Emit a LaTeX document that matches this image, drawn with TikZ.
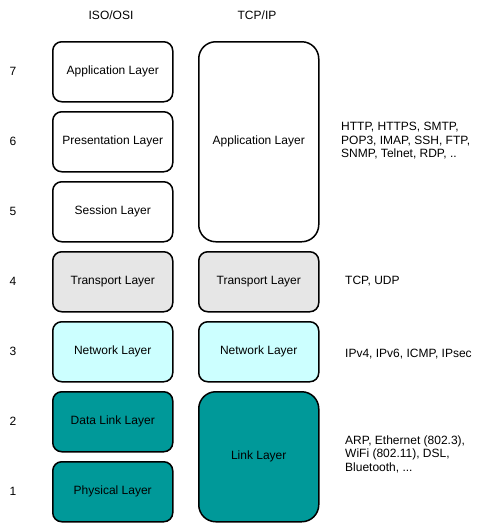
\documentclass[tikz,border=0pt]{standalone}
\usepackage{fontspec}
\setmainfont{Liberation Sans}
\definecolor{grayfill}{HTML}{E6E6E6}
\definecolor{cyanfill}{HTML}{CCFFFF}
\definecolor{tealfill}{HTML}{009999}
\begin{document}
\begin{tikzpicture}[x=1pt,y=-1pt,
  every node/.style={font=\fontsize{12}{13.5}\selectfont, inner sep=0pt},
  layer/.style={draw=black, line width=1.5pt, rounded corners=9pt, minimum width=120pt, minimum height=60pt, anchor=north west},
  biglayer/.style={layer, rounded corners=17pt},
  lbl/.style={anchor=west, align=left}]
\useasboundingbox (0,0) rectangle (485,523);
\node (h1) at (111,15) {ISO/OSI};
\node (h2) at (257,15) {TCP/IP};
% ISO/OSI
\node[layer, fill=white] (o7) at (52,41) {Application Layer};
\node[layer, fill=white] (o6) at (52,111) {Presentation Layer};
\node[layer, fill=white] (o5) at (52,181) {Session Layer};
\node[layer, fill=grayfill] (o4) at (52,251) {Transport Layer};
\node[layer, fill=cyanfill] (o3) at (52,321) {Network Layer};
\node[layer, fill=tealfill] (o2) at (52,391) {Data Link Layer};
\node[layer, fill=tealfill] (o1) at (52,461) {Physical Layer};
% TCP/IP
\node[biglayer, fill=white, minimum height=200pt] (t4) at (198,41) {Application Layer};
\node[layer, fill=grayfill] (t3) at (198,251) {Transport Layer};
\node[layer, fill=cyanfill] (t2) at (198,321) {Network Layer};
\node[biglayer, fill=tealfill, minimum height=130pt] (t1) at (198,391) {Link Layer};
% numbers
\node (n7) at (13,71) {7};
\node (n6) at (13,141) {6};
\node (n5) at (13,211) {5};
\node (n4) at (13,281) {4};
\node (n3) at (13,351) {3};
\node (n2) at (13,421) {2};
\node (n1) at (13,491) {1};
% protocols
\node[lbl] (p4) at (341,141) {HTTP, HTTPS, SMTP,\\POP3, IMAP, SSH, FTP,\\SNMP, Telnet, RDP, ..};
\node[lbl] (p3) at (345,281) {TCP, UDP};
\node[lbl] (p2) at (345,354) {IPv4, IPv6, ICMP, IPsec};
\node[lbl] (p1) at (345,454) {ARP, Ethernet (802.3),\\WiFi (802.11), DSL,\\Bluetooth, ...};
\end{tikzpicture}
\end{document}
